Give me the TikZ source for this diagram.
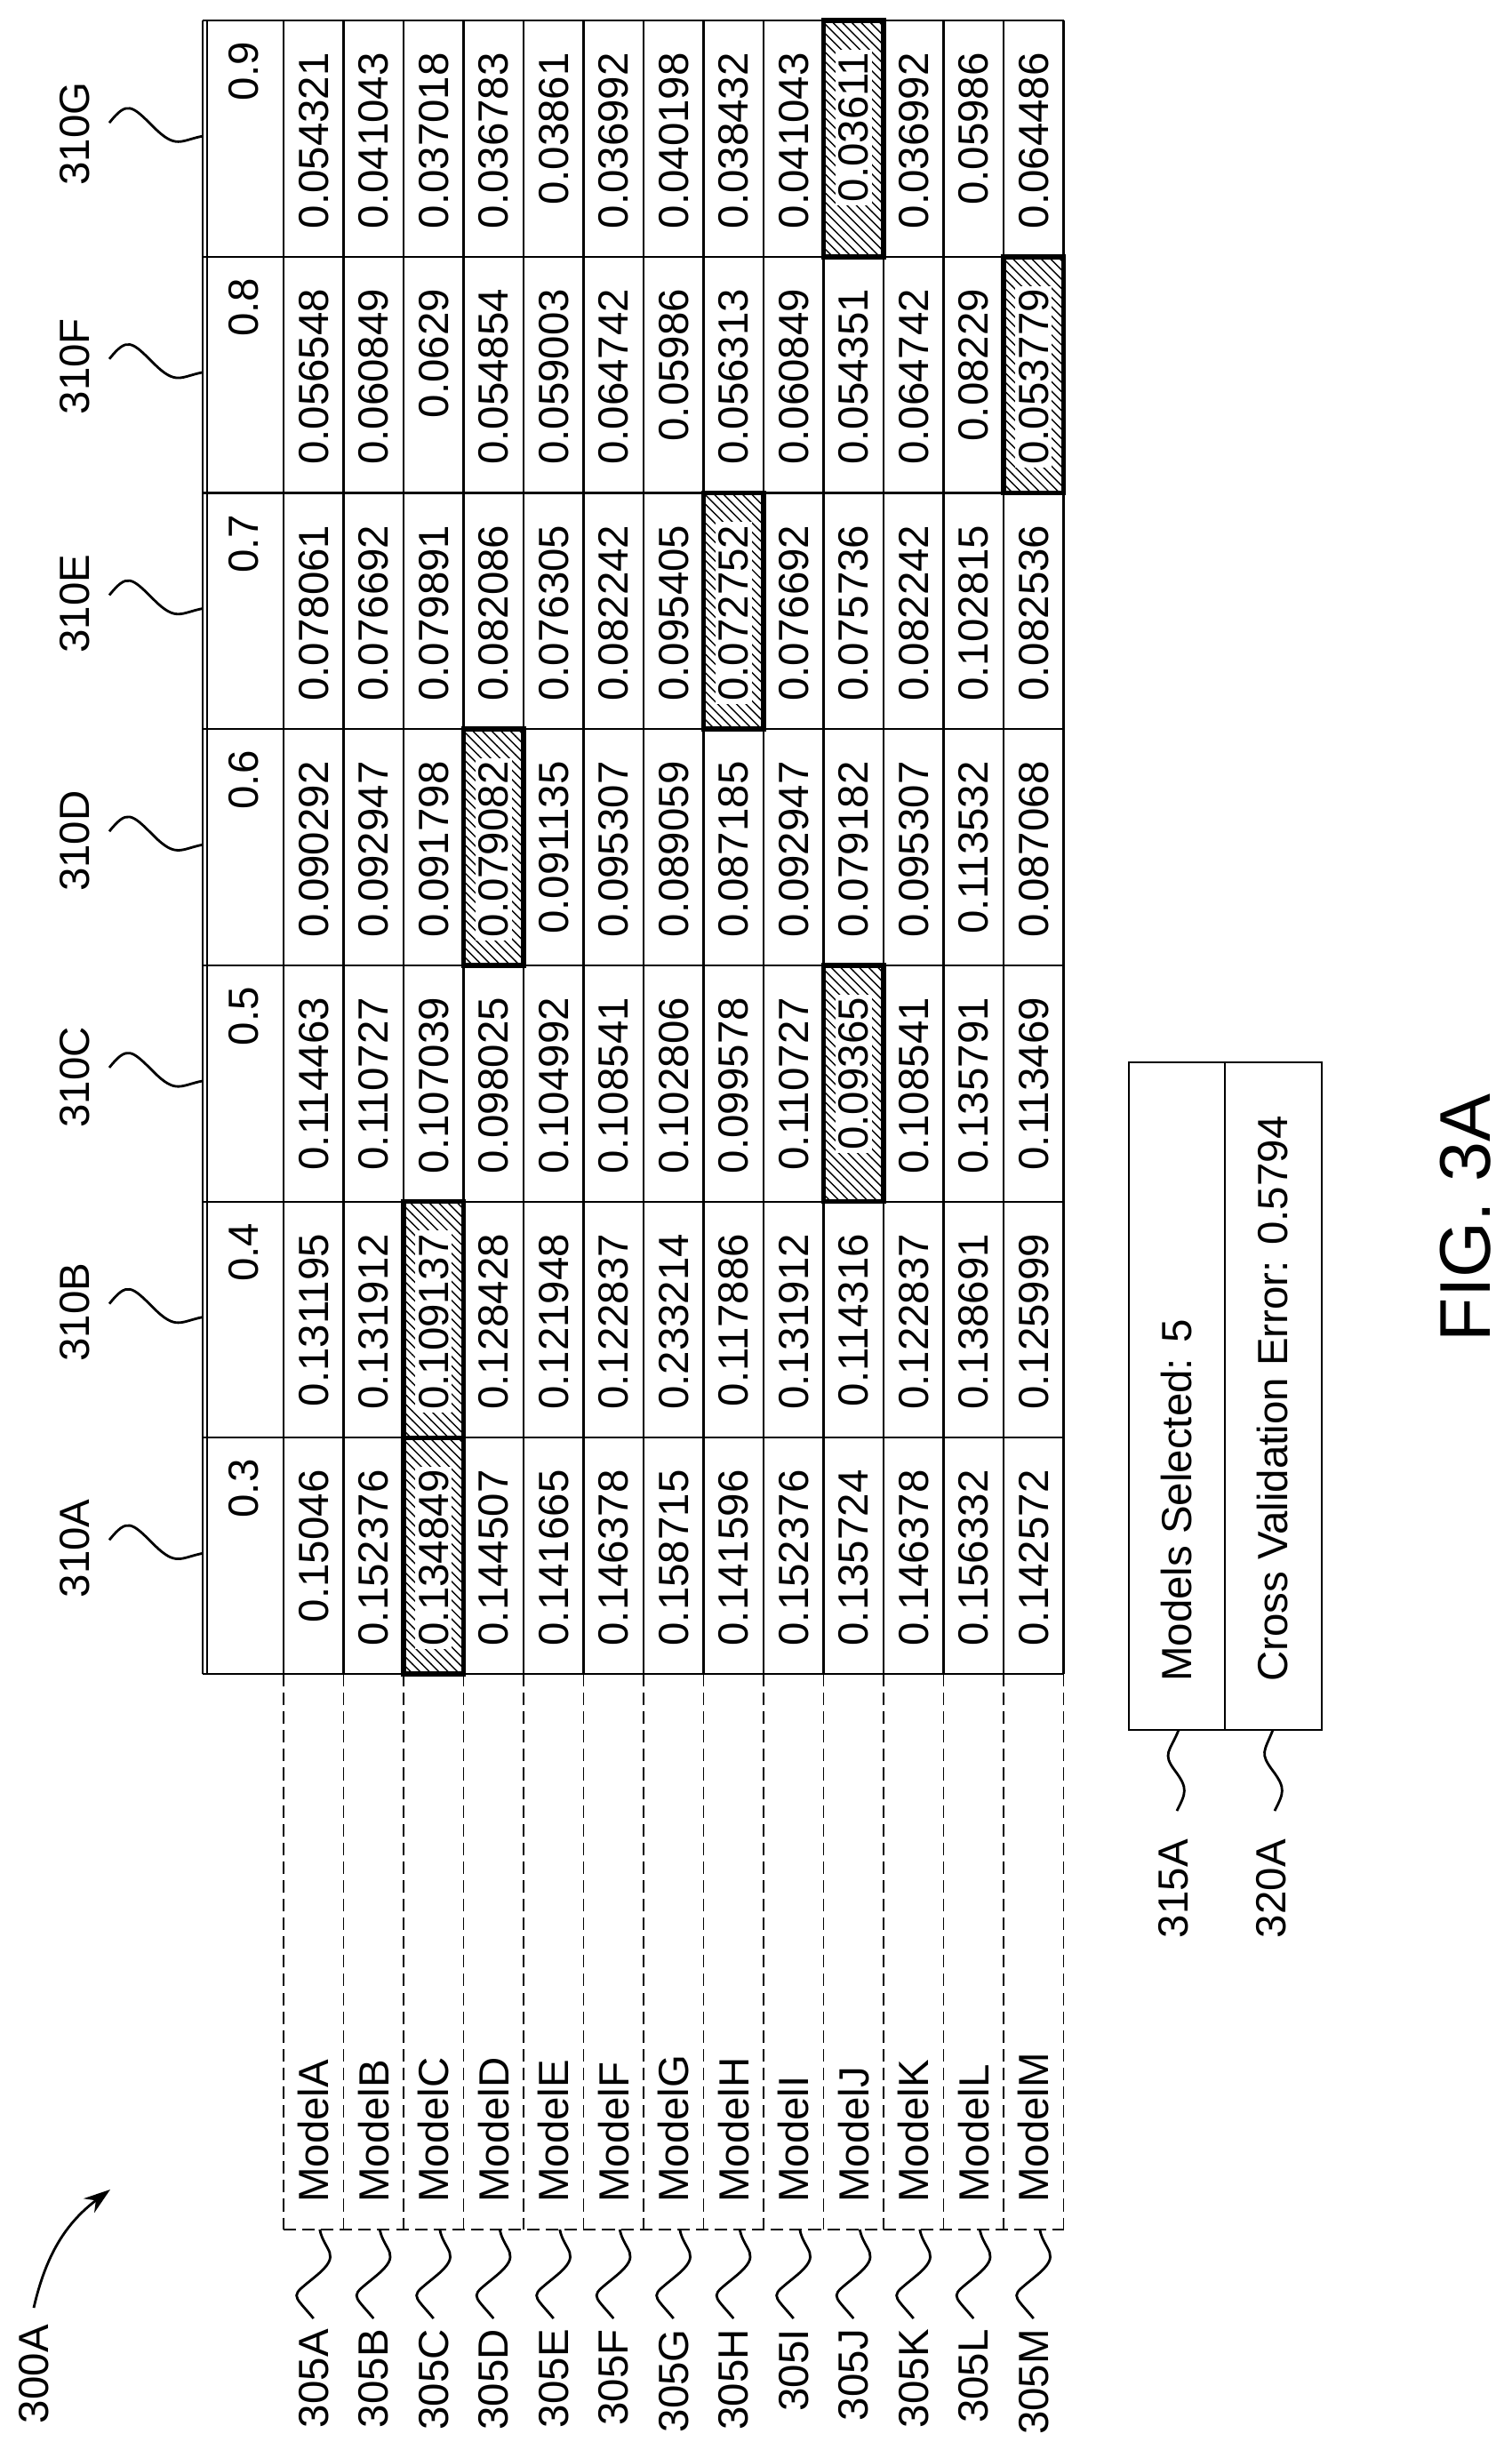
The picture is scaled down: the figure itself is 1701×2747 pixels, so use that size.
\documentclass[tikz,border=0pt]{standalone}
\usepackage{fontspec}
\setmainfont{Liberation Sans}
\usetikzlibrary{patterns,arrows.meta}

\begin{document}
\begin{tikzpicture}[x=0.1mm, y=-0.1mm, >={Stealth[length=3mm,width=2mm]}]
	\tikzstyle{txt} = [rotate=90, inner sep=1pt, font=\fontsize{13.5}{14}\selectfont]
	\tikzstyle{val} = [txt, fill=white, anchor=east]
	\tikzstyle{grid} = [line width=0.6pt]
	\tikzstyle{hl} = [line width=1.6pt]
	\tikzstyle{lead} = [line width=0.8pt]
	\tikzstyle{dsh} = [line width=0.5pt, dash pattern=on 4pt off 2pt]
	\useasboundingbox (0,0) rectangle (1701,2747);
	\def\rw{67.5}
	\def\cw{265.7}

	% hatched cells
	\foreach \r/\c in {2/0, 2/1, 3/3, 7/4, 9/2, 9/6, 12/5}
		\fill[pattern=north west lines] (319+\r*\rw,1883-\c*\cw-\cw) rectangle (319+\r*\rw+\rw,1883-\c*\cw);

	% header
	\foreach \h [count=\c from 0] in {0.3,0.4,0.5,0.6,0.7,0.8,0.9}
		\node[val] (h\c) at (274,1883-\c*\cw-\cw+20) {\h};

	% values
	\foreach \r/\m/\vals in {
		0/A/{0.15046,0.131195,0.114463,0.090292,0.078061,0.056548,0.054321},
		1/B/{0.152376,0.131912,0.110727,0.092947,0.076692,0.060849,0.041043},
		2/C/{0.134849,0.109137,0.107039,0.091798,0.079891,0.0629,0.037018},
		3/D/{0.144507,0.128428,0.098025,0.079082,0.082086,0.054854,0.036783},
		4/E/{0.141665,0.121948,0.104992,0.091135,0.076305,0.059003,0.03861},
		5/F/{0.146378,0.122837,0.108541,0.095307,0.082242,0.064742,0.036992},
		6/G/{0.158715,0.233214,0.102806,0.089059,0.095405,0.05986,0.040198},
		7/H/{0.141596,0.117886,0.099578,0.087185,0.072752,0.056313,0.038432},
		8/I/{0.152376,0.131912,0.110727,0.092947,0.076692,0.060849,0.041043},
		9/J/{0.135724,0.114316,0.09365,0.079182,0.075736,0.054351,0.03611},
		10/K/{0.146378,0.122837,0.108541,0.095307,0.082242,0.064742,0.036992},
		11/L/{0.156332,0.138691,0.135791,0.113532,0.102815,0.08229,0.05986},
		12/M/{0.142572,0.125999,0.113469,0.087068,0.082536,0.053779,0.064486}} {
		\foreach \v [count=\c from 0] in \vals
			\node[val] (v\m\c) at (319+\r*\rw+\rw/2,1883-\c*\cw-\cw+32) {\v};
		\node[txt, anchor=west] (m\m) at (319+\r*\rw+\rw/2,2482) {Model\m};
		\node[txt, anchor=east] (l\m) at (319+\r*\rw+\rw/2,2616)
			{\ifx\m I 305 I\else 305\m\fi};
		\coordinate (e\m) at (319+\r*\rw+\rw/2+7,2508);
		\draw[lead] (l\m.east) ++(0,-8) .. controls +(-25,-30) and +(-30,25) .. ++(3,-48)
			.. controls +(30,-25) and +(5,25) .. (e\m);
	}

	% grid
	\foreach \c in {0,...,7}
		\draw[grid] (228,1883-\c*\cw) -- (1197,1883-\c*\cw);
	\foreach \r in {0,...,13} {
		\draw[grid] (319+\r*\rw,23) -- (319+\r*\rw,1883);
		\draw[dsh] (319+\r*\rw,1883) -- (319+\r*\rw,2508);
	}
	\draw[dsh] (319,2508) -- (1197,2508);
	\draw[grid] (228,23) -- (228,1883) (233,23) -- (233,1883);
	\foreach \r/\c in {2/0, 2/1, 3/3, 7/4, 9/2, 9/6, 12/5}
		\draw[hl] (319+\r*\rw,1883-\c*\cw-\cw) rectangle (319+\r*\rw+\rw,1883-\c*\cw);

	% column labels
	\foreach \n [count=\c from 0] in {A,B,C,D,E,F,G} {
		\node[txt, anchor=east] (t\n) at (84,1883-\c*\cw-\cw+65) {310\n};
		\coordinate (s\n) at (228,1883-\c*\cw-\cw+130);
		\draw[lead] (123,1883-\c*\cw-\cw+115) .. controls +(20,-25) and +(-25,-25) .. ++(50,5)
			.. controls +(25,25) and +(-25,5) .. (s\n);
	}

	% summary box
	\draw[grid] (1270,1195) rectangle (1487,1946) (1378,1195) -- (1378,1946);
	\node[txt, anchor=west] (sel) at (1324,1896) {Models Selected: 5};
	\node[txt, anchor=west] (cve) at (1432,1896) {Cross Validation Error: 0.5794};
	\node[txt, anchor=east] (l315) at (1320,2065) {315A};
	\node[txt, anchor=east] (l320) at (1430,2065) {320A};
	\coordinate (b315) at (1326,1946);
	\coordinate (b320) at (1432,1946);
	\draw[lead] (l315.east) ++(4,-28) .. controls +(10,-20) and +(15,20) .. ++(-2,-45)
		.. controls +(-15,-20) and +(-10,25) .. (b315);
	\draw[lead] (l320.east) ++(4,-28) .. controls +(10,-20) and +(15,20) .. ++(-2,-45)
		.. controls +(-15,-20) and +(-10,25) .. (b320);

	% figure ref
	\node[txt, anchor=east] (ref) at (38,2611) {300A};
	\draw[lead, ->] (ref.east) ++(0,-15) to[bend left=20] (124,2463);
	\node[rotate=90, font=\fontsize{23}{24}\selectfont] (fig) at (1649,1370) {FIG. 3A};
\end{tikzpicture}
\end{document}
